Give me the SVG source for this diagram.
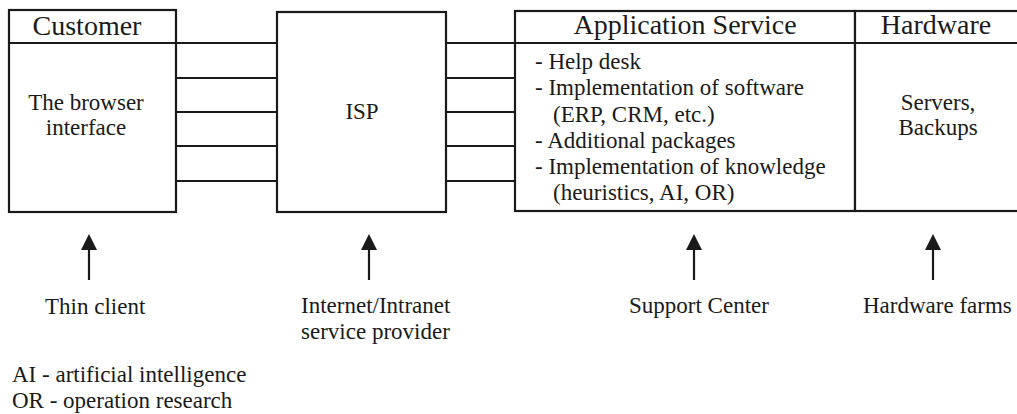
<svg xmlns="http://www.w3.org/2000/svg" width="1017" height="414" viewBox="0 0 1017 414">
<defs>
<style>
.box{fill:#fff;stroke:#1a1a1a;stroke-width:2.2}
.ln{stroke:#1a1a1a;stroke-width:2.2;fill:none}
.t{font-family:"Liberation Serif","Times New Roman",serif;fill:#1a1a1a}
.h{font-size:28px}
.b{font-size:23px}
.m{text-anchor:middle}
</style>
<marker id="ah" viewBox="0 0 16 16" markerWidth="16" markerHeight="16" refX="8" refY="0" orient="auto" markerUnits="userSpaceOnUse">
<path d="M0,16 L8,0 L16,16 Z" fill="#1a1a1a"/>
</marker>
</defs>
<g id="connectors">
<line class="ln" x1="176" y1="43" x2="277" y2="43"/>
<line class="ln" x1="176" y1="78" x2="277" y2="78"/>
<line class="ln" x1="176" y1="112" x2="277" y2="112"/>
<line class="ln" x1="176" y1="146" x2="277" y2="146"/>
<line class="ln" x1="176" y1="181" x2="277" y2="181"/>
<line class="ln" x1="446" y1="43" x2="515" y2="43"/>
<line class="ln" x1="446" y1="78" x2="515" y2="78"/>
<line class="ln" x1="446" y1="112" x2="515" y2="112"/>
<line class="ln" x1="446" y1="146" x2="515" y2="146"/>
<line class="ln" x1="446" y1="181" x2="515" y2="181"/>
<path d="M89,280 V250" class="ln" stroke-width="2.5"/>
<path d="M81,250 L89,234 L97,250 Z" fill="#1a1a1a"/>
<path d="M369,280 V250" class="ln" stroke-width="2.5"/>
<path d="M361,250 L369,234 L377,250 Z" fill="#1a1a1a"/>
<path d="M694,280 V250" class="ln" stroke-width="2.5"/>
<path d="M686,250 L694,234 L702,250 Z" fill="#1a1a1a"/>
<path d="M933,280 V250" class="ln" stroke-width="2.5"/>
<path d="M925,250 L933,234 L941,250 Z" fill="#1a1a1a"/>
</g>
<g id="customer">
<rect class="box" x="9" y="10" width="167" height="202"/>
<line class="ln" x1="9" y1="43" x2="176" y2="43"/>
<text class="t h m" x="87" y="35">Customer</text>
<text class="t b m" x="86" y="110">The browser</text>
<text class="t b m" x="86" y="135">interface</text>
</g>
<g id="isp">
<rect class="box" x="277" y="12" width="169" height="200"/>
<text class="t b m" x="362" y="119">ISP</text>
</g>
<g id="application-service">
<rect class="box" x="515" y="11" width="340" height="200"/>
<line class="ln" x1="515" y1="43" x2="855" y2="43"/>
<text class="t h m" x="685" y="34">Application Service</text>
<text class="t b" x="535" y="69">- Help desk</text>
<text class="t b" x="535" y="95">- Implementation of software</text>
<text class="t b" x="553" y="122">(ERP, CRM, etc.)</text>
<text class="t b" x="535" y="148">- Additional packages</text>
<text class="t b" x="535" y="174">- Implementation of knowledge</text>
<text class="t b" x="553" y="200">(heuristics, AI, OR)</text>
</g>
<g id="hardware">
<rect class="box" x="855" y="11" width="170" height="200"/>
<line class="ln" x1="855" y1="43" x2="1025" y2="43"/>
<text class="t h m" x="936" y="34">Hardware</text>
<text class="t b m" x="938" y="110">Servers,</text>
<text class="t b m" x="938" y="135">Backups</text>
</g>
<g id="labels">
<text class="t b" x="45" y="314">Thin client</text>
<text class="t b" x="301" y="313">Internet/Intranet</text>
<text class="t b" x="301" y="339">service provider</text>
<text class="t b" x="629" y="313">Support Center</text>
<text class="t b" x="863" y="313">Hardware farms</text>
<text class="t b" x="12" y="382">AI - artificial intelligence</text>
<text class="t b" x="12" y="408">OR - operation research</text>
</g>
</svg>
